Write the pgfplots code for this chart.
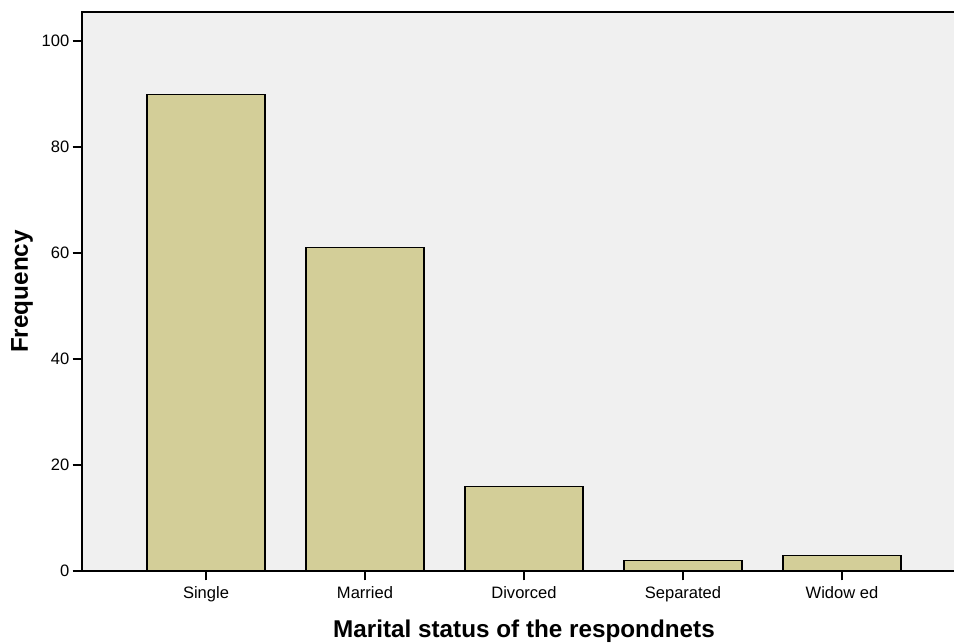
\documentclass[border=0pt]{standalone}
\usepackage{pgfplots}
\pgfplotsset{compat=1.18}
\usepackage{fontspec}
\setmainfont{Liberation Sans}
\definecolor{barfill}{RGB}{211,206,152}
\definecolor{bgfill}{RGB}{240,240,240}
\begin{document}
\begin{tikzpicture}
\path[use as bounding box] (0,0) rectangle (715.5pt,482.25pt);
\clip (0,0) rectangle (715.5pt,482.25pt);
\begin{axis}[
  at={(61.5pt,54pt)}, anchor=south west,
  scale only axis, width=663pt, height=419.25pt,
  xmin=-0.78, xmax=4.78, ymin=0, ymax=105.5,
  axis background/.style={fill=bgfill},
  axis line style={line width=1.3pt, black},
  xtick={0,1,2,3,4},
  xticklabels={Single,Married,Divorced,Separated,Widow ed},
  ytick={0,20,40,60,80,100},
  xtick pos=left, ytick pos=left,
  tick align=outside, major tick length=7pt,
  tick style={line width=1.3pt, black},
  /pgf/number format/assume math mode=true,
  tick label style={font=\fontsize{12.4}{14}\selectfont},
  yticklabel style={xshift=1pt},
  xticklabel style={yshift=-1pt},
  xlabel={Marital status of the respondnets},
  ylabel={Frequency},
  xlabel style={font=\fontsize{18.2}{20}\selectfont\bfseries, at={(axis description cs:0.5,-0.1073)}, anchor=center},
  ylabel style={font=\fontsize{18.2}{20}\selectfont\bfseries, at={(axis description cs:-0.0679,0.5)}, anchor=center},
]
\addplot[ybar, bar width=0.742, fill=barfill, draw=black, line width=0.9pt]
  coordinates {(0,90) (1,61) (2,16) (3,2) (4,3)};
\end{axis}
\end{tikzpicture}
\end{document}
